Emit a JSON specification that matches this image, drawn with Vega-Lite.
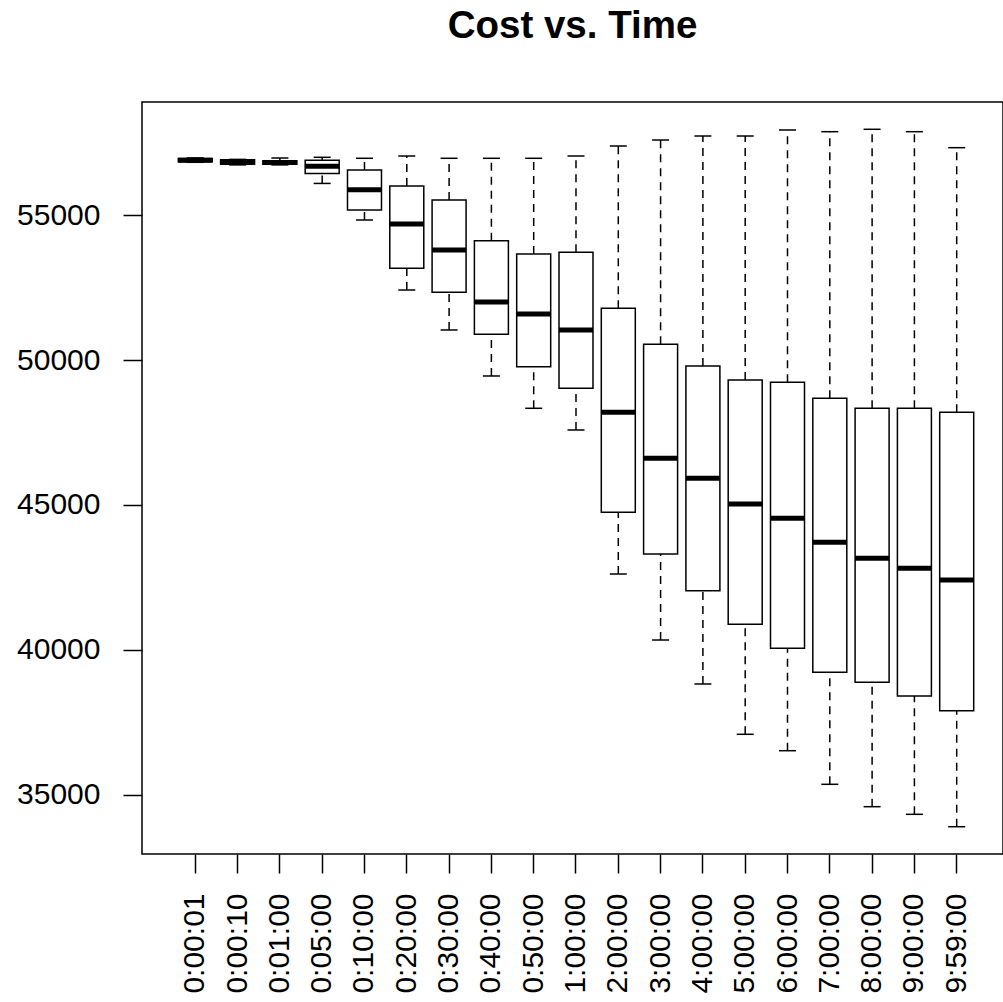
{
  "$schema": "https://vega.github.io/schema/vega-lite/v6.json",
  "width": 861,
  "height": 752,
  "autosize": {"type": "none"},
  "padding": {"left": 142, "top": 102, "right": 0, "bottom": 148},
  "background": "white",
  "title": {"text": "Cost vs. Time", "font": "Liberation Sans", "fontSize": 38.5, "fontWeight": "bold", "color": "black", "anchor": "middle", "offset": 56, "frame": "group"},
  "config": {
    "view": {"stroke": "black", "strokeWidth": 1.5},
    "axis": {"labelFont": "Liberation Sans", "labelFontSize": 30, "labelColor": "black", "tickColor": "black", "tickWidth": 1.5, "tickSize": 19, "domain": false, "grid": false, "titleFontSize": 0}
  },
  "data": {"values": [
    {"time": "0:00:01", "min": 56830, "q1": 56850, "med": 56900, "q3": 56960, "max": 56980},
    {"time": "0:00:10", "min": 56740, "q1": 56760, "med": 56840, "q3": 56919, "max": 56930},
    {"time": "0:01:00", "min": 56740, "q1": 56760, "med": 56823, "q3": 56885, "max": 56978},
    {"time": "0:05:00", "min": 56100, "q1": 56440, "med": 56690, "q3": 56900, "max": 57002},
    {"time": "0:10:00", "min": 54838, "q1": 55183, "med": 55884, "q3": 56564, "max": 56968},
    {"time": "0:20:00", "min": 52421, "q1": 53170, "med": 54699, "q3": 56011, "max": 57047},
    {"time": "0:30:00", "min": 51041, "q1": 52342, "med": 53802, "q3": 55528, "max": 56968},
    {"time": "0:40:00", "min": 49453, "q1": 50892, "med": 52007, "q3": 54123, "max": 56968},
    {"time": "0:50:00", "min": 48338, "q1": 49774, "med": 51593, "q3": 53664, "max": 56968},
    {"time": "1:00:00", "min": 47589, "q1": 49028, "med": 51041, "q3": 53723, "max": 57047},
    {"time": "2:00:00", "min": 42617, "q1": 44748, "med": 48200, "q3": 51790, "max": 57392},
    {"time": "3:00:00", "min": 40339, "q1": 43308, "med": 46612, "q3": 50547, "max": 57599},
    {"time": "4:00:00", "min": 38821, "q1": 42041, "med": 45921, "q3": 49798, "max": 57737},
    {"time": "5:00:00", "min": 37084, "q1": 40881, "med": 45034, "q3": 49314, "max": 57737},
    {"time": "6:00:00", "min": 36518, "q1": 40053, "med": 44540, "q3": 49235, "max": 57945},
    {"time": "7:00:00", "min": 35358, "q1": 39224, "med": 43712, "q3": 48683, "max": 57886},
    {"time": "8:00:00", "min": 34585, "q1": 38879, "med": 43160, "q3": 48338, "max": 57969},
    {"time": "9:00:00", "min": 34322, "q1": 38406, "med": 42815, "q3": 48338, "max": 57886},
    {"time": "9:59:00", "min": 33894, "q1": 37899, "med": 42410, "q3": 48200, "max": 57334}
  ]},
  "encoding": {
    "x": {"field": "time", "type": "ordinal", "sort": null, "title": null,
      "scale": {"type": "band", "paddingInner": 0, "paddingOuter": 0.677, "align": 0.561},
      "axis": {"labelAngle": -90, "labelPadding": 20, "tickSize": 19}}
  },
  "layer": [
    {"mark": {"type": "rule", "color": "black", "strokeWidth": 1.5, "strokeDash": [8, 6]},
     "encoding": {"y": {"field": "min", "type": "quantitative", "title": null,
        "scale": {"domain": [32952, 58911], "nice": false, "zero": false},
        "axis": {"values": [35000, 40000, 45000, 50000, 55000], "labelPadding": 23, "format": "d"}},
       "y2": {"field": "q1"}}},
    {"mark": {"type": "rule", "color": "black", "strokeWidth": 1.5, "strokeDash": [8, 6]},
     "encoding": {"y": {"field": "q3", "type": "quantitative", "title": null}, "y2": {"field": "max"}}},
    {"mark": {"type": "tick", "color": "black", "size": 17, "thickness": 1.5, "opacity": 1},
     "encoding": {"y": {"field": "min", "type": "quantitative", "title": null}}},
    {"mark": {"type": "tick", "color": "black", "size": 17, "thickness": 1.5, "opacity": 1},
     "encoding": {"y": {"field": "max", "type": "quantitative", "title": null}}},
    {"mark": {"type": "bar", "size": 34, "fill": "white", "stroke": "black", "strokeWidth": 1.5, "opacity": 1},
     "encoding": {"y": {"field": "q1", "type": "quantitative", "title": null}, "y2": {"field": "q3"}}},
    {"mark": {"type": "tick", "color": "black", "size": 34, "thickness": 5, "opacity": 1},
     "encoding": {"y": {"field": "med", "type": "quantitative", "title": null}}}
  ]
}
